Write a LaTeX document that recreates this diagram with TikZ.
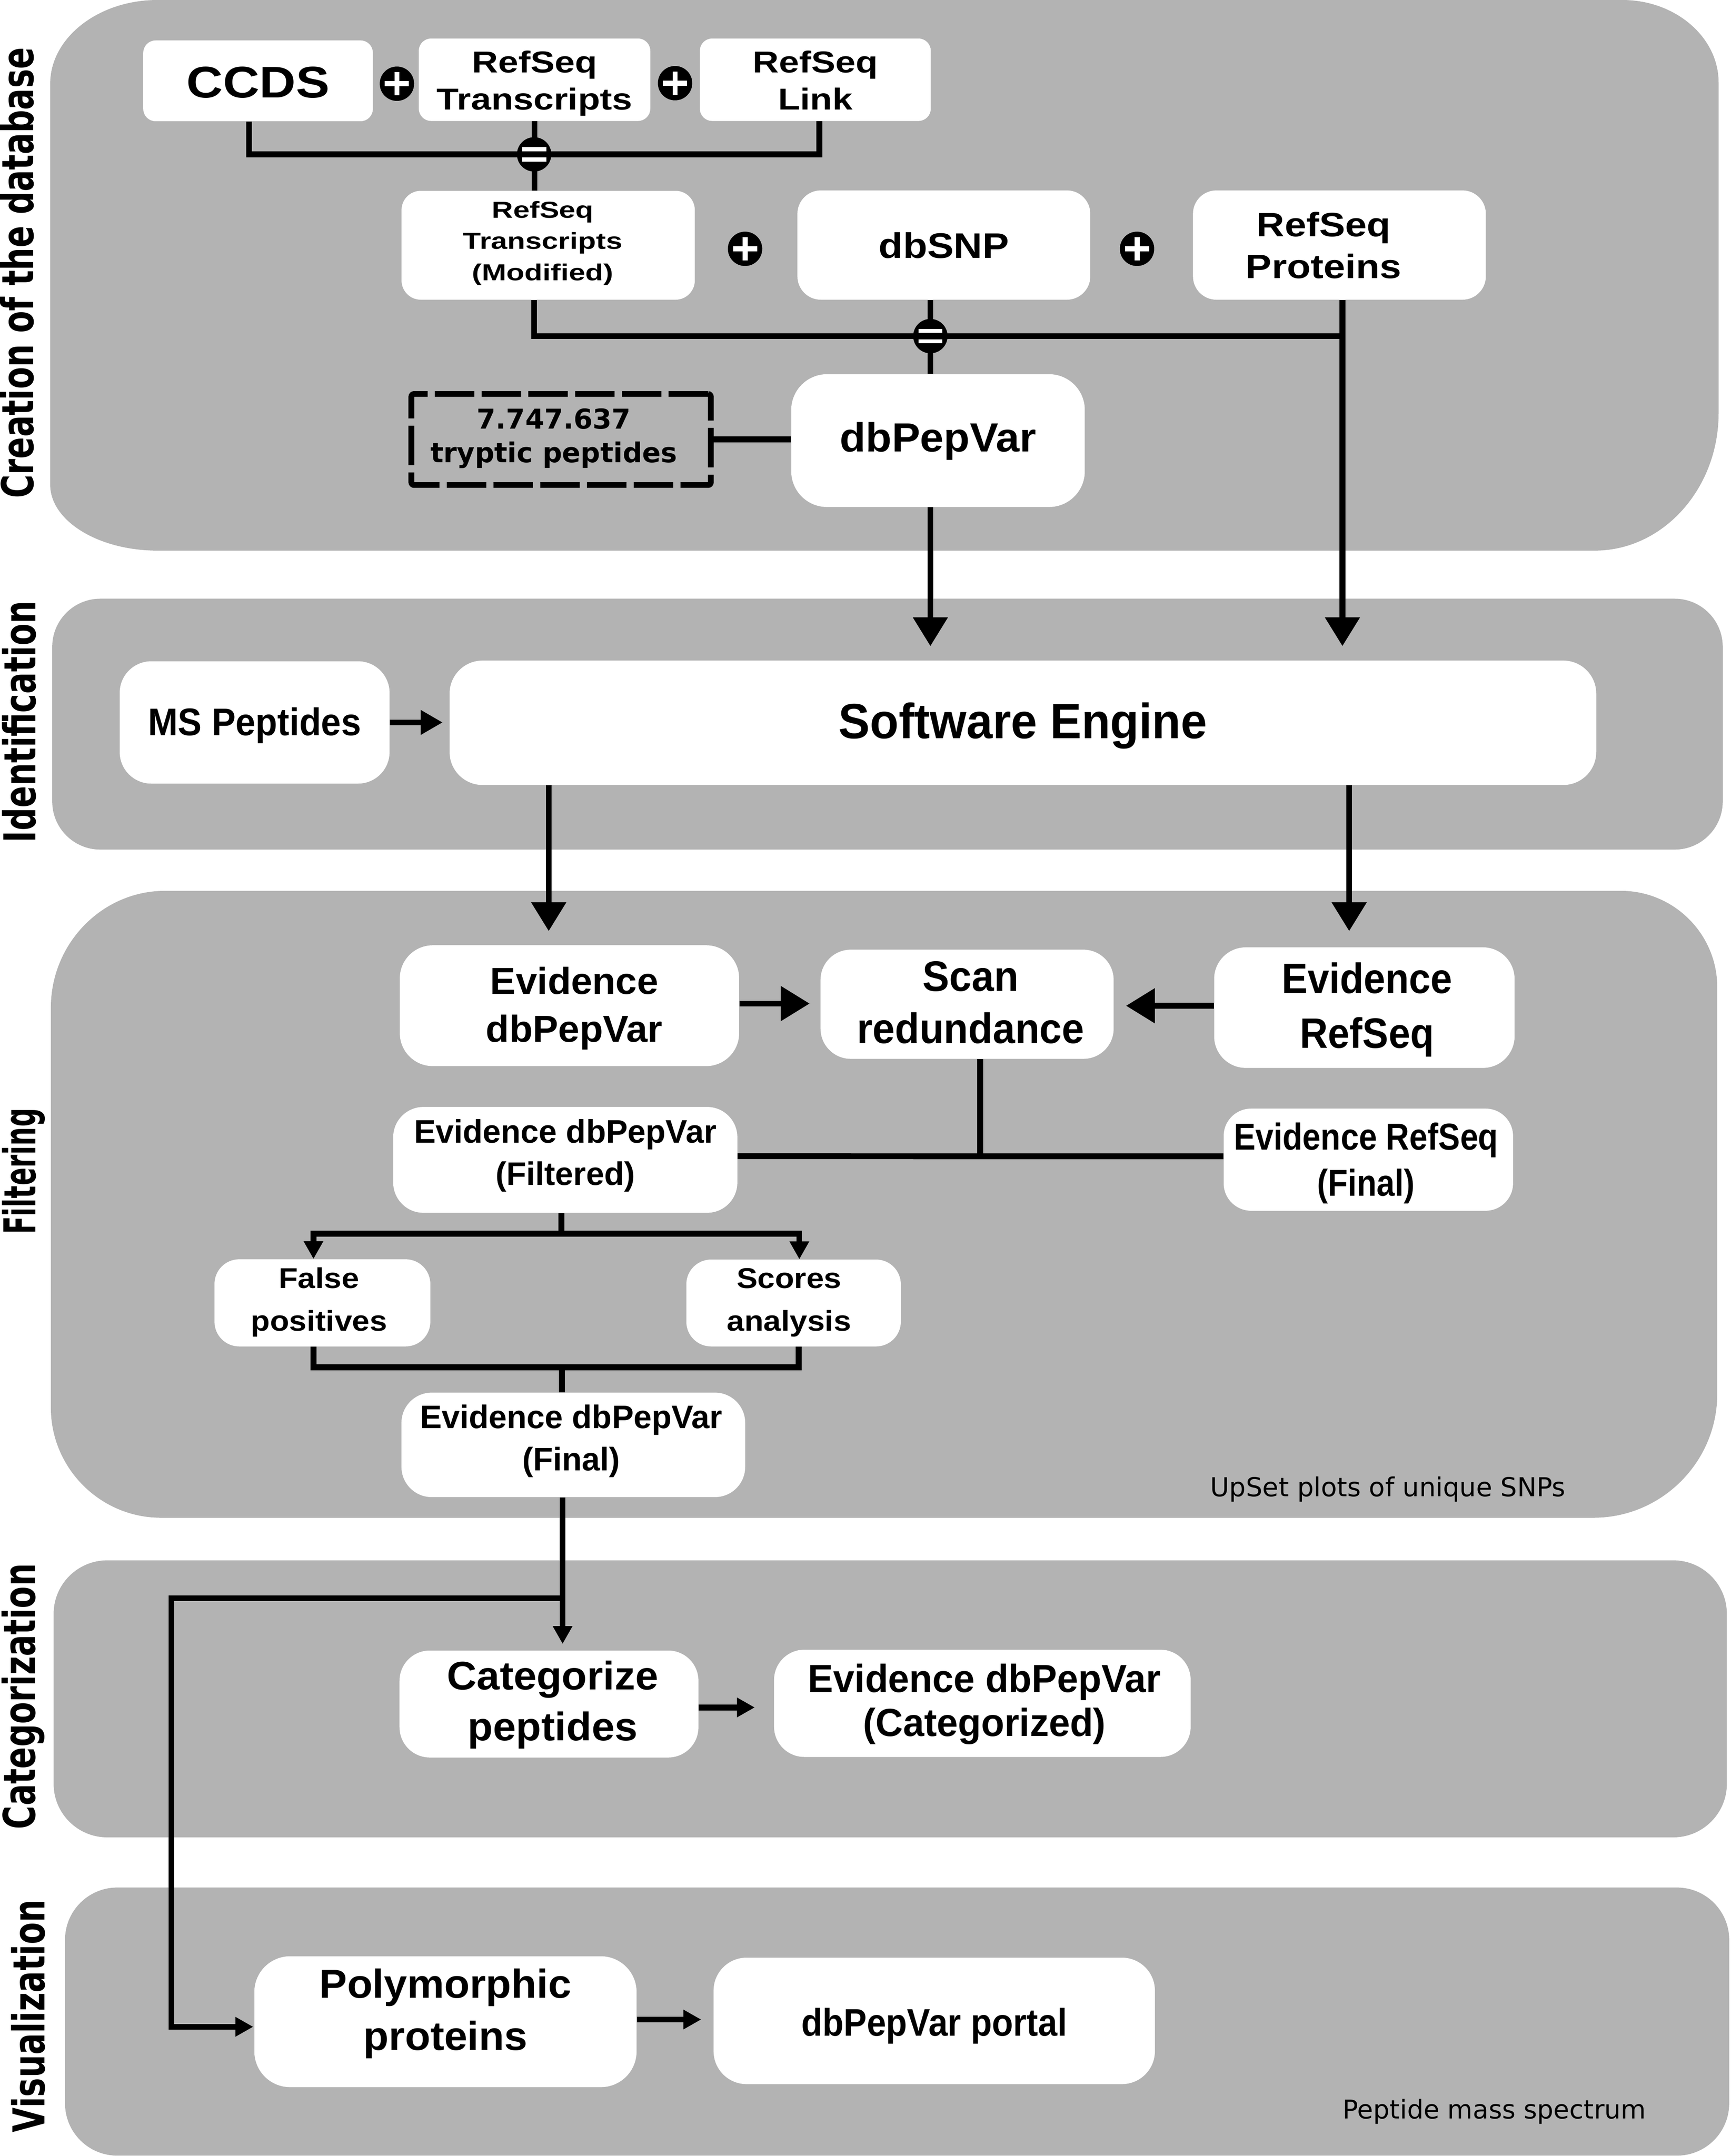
\documentclass[tikz,border=0pt]{standalone}
\usepackage{fontspec}
\setmainfont{Liberation Sans}
\newfontfamily\dvs{DejaVu Sans}
\usetikzlibrary{arrows.meta}
\definecolor{lanegray}{RGB}{179,179,179}
\newcommand\ml[1]{\vbox{\halign{\hfil##\hfil\cr#1\crcr}}}
\newcommand\tf[3]{\bfseries\fontsize{#1pt}{#2pt}\selectfont\addfontfeatures{FakeStretch=#3}}
\begin{document}
\begin{tikzpicture}[x=1pt,y=-1pt,
  box/.style={rectangle, fill=white, inner sep=0pt, text depth=0pt},
  conn/.style={line width=4.3pt, black},
  abig/.style={-{Triangle[length=21pt,width=24.5pt]}},
  amed/.style={-{Triangle[length=16pt,width=17pt]}},
  asmall/.style={-{Triangle[length=13pt,width=13.5pt]}},
  lanelabel/.style={inner sep=0pt, rotate=90, anchor=base,
    font=\dvs\bfseries\fontsize{32pt}{32pt}\selectfont\addfontfeatures{FakeStretch=0.73}},
  note/.style={inner sep=0pt, anchor=base},
  plusc/.style={circle, fill=black, minimum size=25pt, inner sep=0pt,
    path picture={
      \fill[white] (path picture bounding box.center) ++(-8.8pt,-1.8pt) rectangle ++(17.6pt,3.6pt);
      \fill[white] (path picture bounding box.center) ++(-1.85pt,-8.5pt) rectangle ++(3.7pt,17pt);}},
  eqc/.style={circle, fill=black, minimum size=25pt, inner sep=0pt,
    path picture={
      \fill[white] (path picture bounding box.center) ++(-8.75pt,2.2pt) rectangle ++(17.5pt,3.1pt);
      \fill[white] (path picture bounding box.center) ++(-8.75pt,-2.2pt) rectangle ++(17.5pt,-3.1pt);}}
]
\useasboundingbox (0,0) rectangle (1259,1568.3);
\fill[white] (0,0) rectangle (1259,1568.3);

% ---------------- lanes
\fill[lanegray] (114.5,0) -- (1180,0) .. controls +(38.5,0) and +(0,-33) .. (1250,60)
  -- (1250,300.5) .. controls +(0,55) and +(49.5,0) .. (1160,400.5)
  -- (114.5,400.5) .. controls +(-42.9,0) and +(0,26.4) .. (36.5,352.5)
  -- (36.5,61) .. controls +(0,-33.55) and +(-42.9,0) .. (114.5,0) -- cycle;
\fill[lanegray, rounded corners=35pt] (38,435.5) rectangle (1253,618);
\fill[lanegray] (120,648) -- (1179,648) .. controls +(38.5,0) and +(0,-38.5) .. (1249,718)
  -- (1249,1014) .. controls +(0,49.5) and +(49.5,0) .. (1159,1104)
  -- (117,1104) .. controls +(-44,0) and +(0,44) .. (37,1024)
  -- (37,733) .. controls +(0,-46.75) and +(-45.65,0) .. (120,648) -- cycle;
\fill[lanegray, rounded corners=39pt] (39,1135) rectangle (1256,1336.5);
\fill[lanegray, rounded corners=38pt] (47.3,1373) rectangle (1257.7,1568);

% ---------------- lane labels
\node[lanelabel] (lcre) at (24.3,198.5) {Creation of the database};
\node[lanelabel] (lide) at (26,525) {Identification};
\node[lanelabel, font=\dvs\bfseries\fontsize{32pt}{32pt}\selectfont\addfontfeatures{FakeStretch=0.6}] (lfil) at (26,852) {Filtering};
\node[lanelabel] (lcat) at (25.7,1234) {Categorization};
\node[lanelabel] (lvis) at (32.6,1466.5) {Visualization};

% ---------------- boxes: creation of the database
\node[box, minimum width=167pt, minimum height=58.8pt, rounded corners=9pt, text height=24.2pt,
  font=\tf{32.2}{38}{1.14}] (ccds) at (187.7,58.8) {CCDS};
\node[box, minimum width=168.4pt, minimum height=60pt, rounded corners=9pt, text height=43.4pt,
  font=\tf{22}{27}{1.2}] (rst) at (388.8,58) {\ml{RefSeq\cr Transcripts}};
\node[box, minimum width=168pt, minimum height=60pt, rounded corners=9pt, text height=43.4pt,
  font=\tf{22}{27}{1.2}] (rsl) at (593,58) {\ml{RefSeq\cr Link}};
\node[box, minimum width=213.3pt, minimum height=79.2pt, rounded corners=14pt, text height=51pt,
  font=\tf{16.8}{22.7}{1.28}] (rstm) at (398.7,178.4) {\ml{RefSeq\cr Transcripts\cr (Modified)}\kern7.8pt};
\node[box, minimum width=213pt, minimum height=79.5pt, rounded corners=17pt, text height=19.1pt,
  font=\tf{25.8}{30}{1.12}] (dbsnp) at (686.5,178.25) {dbSNP};
\node[box, minimum width=213pt, minimum height=79.5pt, rounded corners=17pt, text height=48.7pt,
  font=\tf{24.6}{30.6}{1.15}] (rsp) at (974.2,178.25) {\ml{RefSeq\cr Proteins}\kern23pt};
\node[box, minimum width=213.5pt, minimum height=96.6pt, rounded corners=26pt, text height=16pt,
  font=\tf{29.6}{34}{1.045}] (dbpv) at (682.25,320.5) {dbPepVar};
\node[rectangle, draw=black, line width=4.2pt, dash pattern=on 28.7pt off 5.3pt, rounded corners=2pt,
  inner sep=0pt, minimum width=217.8pt, minimum height=66.2pt, text height=33.4pt, text depth=0pt,
  font=\dvs\bfseries\fontsize{19.9pt}{24.6pt}\selectfont] (tryp) at (408.1,319.7)
  {\ml{7.747.637\cr tryptic peptides}\kern10.6pt};

% ---------------- identification
\node[box, minimum width=196.3pt, minimum height=89pt, rounded corners=23pt, text height=19pt,
  font=\tf{28}{32}{0.93}] (msp) at (185.2,525.5) {MS Peptides};
\node[box, minimum width=834pt, minimum height=90.5pt, rounded corners=24pt, text height=22.5pt,
  font=\tf{36}{40}{0.95}] (se) at (744,525.75) {Software Engine};

% ---------------- filtering
\node[box, minimum width=246.8pt, minimum height=87.9pt, rounded corners=24pt, text height=52.9pt,
  font=\tf{27.3}{35}{1.02}] (evd) at (414.2,731.55) {\kern7pt\ml{Evidence\cr dbPepVar}};
\node[box, minimum width=213.2pt, minimum height=79.4pt, rounded corners=22pt, text height=57pt,
  font=\tf{31}{38}{0.94}] (scan) at (703.4,730.5) {\kern5.2pt\ml{Scan\cr redundance}};
\node[box, minimum width=218.5pt, minimum height=87.7pt, rounded corners=23pt, text height=58.5pt,
  font=\tf{30.9}{39.8}{0.915}] (evr) at (992.35,732.95) {\kern3.9pt\ml{Evidence\cr RefSeq}};
\node[box, minimum width=250.3pt, minimum height=77pt, rounded corners=22pt, text height=36.6pt,
  font=\tf{23.7}{30.7}{1.0}] (evdf) at (411.15,843.7) {\ml{Evidence dbPepVar\cr (Filtered)}};
\node[box, minimum width=210.5pt, minimum height=74.3pt, rounded corners=20pt, text height=52.9pt,
  font=\tf{27.2}{33.5}{0.871}] (evrf) at (995.25,843.55) {\ml{Evidence RefSeq\cr (Final)}\kern3.3pt};
\node[box, minimum width=157pt, minimum height=63.4pt, rounded corners=18pt, text height=41pt,
  font=\tf{20.8}{31}{1.1}] (fp) at (234.5,947.7) {\ml{False\cr positives}\kern5pt};
\node[box, minimum width=156pt, minimum height=63.2pt, rounded corners=18pt, text height=40.8pt,
  font=\tf{20.8}{31}{1.1}] (sa) at (577.2,947.8) {\ml{Scores\cr analysis}\kern6.6pt};
\node[box, minimum width=250pt, minimum height=76pt, rounded corners=22pt, text height=37.6pt,
  font=\tf{23.7}{30.7}{1.0}] (evdfin) at (417,1051) {\ml{Evidence dbPepVar\cr (Final)}\kern3pt};
\node[note, font=\dvs\fontsize{19pt}{23pt}\selectfont] (upset) at (1009.5,1088.5) {UpSet plots of unique SNPs};

% ---------------- categorization
\node[box, minimum width=217.4pt, minimum height=77.8pt, rounded corners=22pt, text height=53pt,
  font=\tf{29}{37}{1.036}] (cat) at (399.3,1239.5) {\kern5.4pt\ml{Categorize\cr peptides}};
\node[box, minimum width=303pt, minimum height=78pt, rounded corners=22pt, text height=48pt,
  font=\tf{28.5}{32}{0.97}] (cated) at (714.5,1239) {\kern3pt\ml{Evidence dbPepVar\cr (Categorized)}};

% ---------------- visualization
\node[box, minimum width=278pt, minimum height=95.2pt, rounded corners=26pt, text height=41.6pt,
  font=\tf{29.4}{38}{1.03}] (poly) at (324,1470.6) {\ml{Polymorphic\cr proteins}};
\node[box, minimum width=321pt, minimum height=92pt, rounded corners=24pt, text height=22pt,
  font=\tf{28}{32}{0.9}] (portal) at (679.5,1470) {dbPepVar portal};
\node[note, font=\dvs\fontsize{18.8pt}{23pt}\selectfont] (pms) at (1087,1541) {Peptide mass spectrum};

% ---------------- junction coordinates and arrow ends
\coordinate (e1pos) at (388.5,112.3);
\coordinate (e2pos) at (676.7,244.5);
\coordinate (jP) at (976.4,244.5);
\coordinate (aP) at (976.4,470);
\coordinate (aD) at (676.7,470);
\coordinate (aM) at (322,525.5);
\coordinate (aH) at (399.1,677.3);
\coordinate (aI) at (981.3,677.3);
\coordinate (aJ) at (588.9,730);
\coordinate (aK) at (819,731.6);
\coordinate (jS) at (713,841.1);
\coordinate (jA) at (408.3,897.3);
\coordinate (jB) at (408.8,994.5);
\coordinate (jC) at (409.2,1162.6);
\coordinate (jD) at (124.7,1162.6);
\coordinate (aCat) at (549,1242);
\coordinate (aPol) at (510,1469);

% ---------------- connectors
\draw[conn] ([xshift=-6.6pt]ccds.south) |- (e1pos) -| ([xshift=3pt]rsl.south);
\draw[conn] (rst.south) -- (rst.south |- rstm.north);
\draw[conn] ([xshift=-10.2pt]rstm.south) |- (e2pos) -- (jP);
\draw[conn] ([xshift=-9.8pt]dbsnp.south) -- ([xshift=-5.55pt]dbpv.north);
\draw[conn, abig] ([xshift=2.2pt]rsp.south) -- (aP);
\draw[conn] (tryp.east) -- (tryp.east -| dbpv.west);
\draw[conn, abig] ([xshift=-5.55pt]dbpv.south) -- (aD);
\draw[conn, amed] (msp.east) -- (aM);
\draw[conn, abig] ([xshift=-344.9pt]se.south) -- (aH);
\draw[conn, abig] ([xshift=237.3pt]se.south) -- (aI);
\draw[conn, abig] ([yshift=1.55pt]evd.east) -- (aJ);
\draw[conn, abig] ([yshift=1.35pt]evr.west) -- (aK);
\draw[conn] ([xshift=9.6pt]scan.south) -- (jS);
\draw[conn] ([yshift=2.7pt]evdf.east) -- ([yshift=2.45pt]evrf.west);
\draw[conn] ([xshift=-2.85pt]evdf.south) -- (jA);
\draw[conn, asmall] (jA) -| ([xshift=-6.5pt]fp.north);
\draw[conn, asmall] (jA) -| ([xshift=4.2pt]sa.north);
\draw[conn] ([xshift=-6.5pt]fp.south) |- (jB) -| ([xshift=3.7pt]sa.south);
\draw[conn] (jB) -- (jB |- evdfin.north);
\draw[conn] ([xshift=-7.8pt]evdfin.south) -- (jC);
\draw[conn, asmall] (jC) -- ([xshift=9.9pt,yshift=4.6pt]cat.north);
\draw[conn, asmall] (jC) -- (jD) |- ([xshift=-0.6pt,yshift=-3.7pt]poly.west);
\draw[conn, asmall] ([yshift=-2.5pt]cat.east) -- (aCat);
\draw[conn, asmall] ([yshift=1.6pt]poly.east) -- (aPol);

% ---------------- plus and equals signs
\node[plusc] (p1) at (288.7,60.9) {};
\node[plusc] (p2) at (491,60.5) {};
\node[plusc] (p3) at (541.9,181) {};
\node[plusc] (p4) at (827,181) {};
\node[eqc] (e1) at (e1pos) {};
\node[eqc] (e2) at (e2pos) {};
\end{tikzpicture}
\end{document}
